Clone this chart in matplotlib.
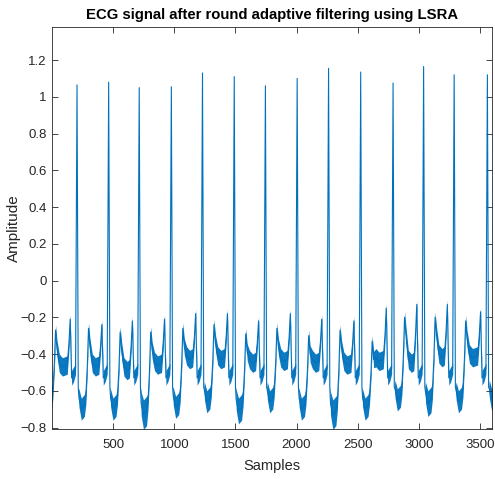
import numpy as np
import matplotlib
matplotlib.use("Agg")
import matplotlib.pyplot as plt

# ---- data ----
# R-peak sample positions (first is a virtual beat before the window)
r_pos = [-67, 203, 462, 712, 975, 1230, 1490, 1745, 2005, 2262, 2525, 2790, 3040, 3290, 3562]
r_height = [1.05, 1.065, 1.08, 1.05, 1.055, 1.13, 1.11, 1.06, 1.10, 1.155, 1.135, 1.075, 1.165, 1.12, 1.12]
# per segment (after each R): level of the low part, T peak, trough, pre-R peak
seg_low = [-0.65, -0.68, -0.68, -0.71, -0.67, -0.64, -0.69, -0.64, -0.68, -0.71, -0.68, -0.63, -0.65, -0.64, -0.63]
seg_t = [-0.27, -0.26, -0.28, -0.28, -0.26, -0.24, -0.29, -0.26, -0.30, -0.27, -0.33, -0.20, -0.20, -0.22, -0.22]
seg_trough = [-0.47, -0.47, -0.49, -0.46, -0.43, -0.43, -0.45, -0.44, -0.45, -0.46, -0.44, -0.45, -0.42, -0.42, -0.42]
seg_pre = [-0.21, -0.24, -0.22, -0.21, -0.18, -0.18, -0.22, -0.18, -0.21, -0.22, -0.15, -0.13, -0.13, -0.17, -0.17]
seg_noise = [0.06, 0.06, 0.06, 0.08, 0.06, 0.06, 0.07, 0.06, 0.06, 0.08, 0.06, 0.06, 0.07, 0.06, 0.06]
n_samples = 3600
x_ticks = [500, 1000, 1500, 2000, 2500, 3000, 3500]
y_ticks = [-0.8, -0.6, -0.4, -0.2, 0, 0.2, 0.4, 0.6, 0.8, 1, 1.2]
y_tick_labels = ["\u22120.8", "\u22120.6", "\u22120.4", "\u22120.2", "0", "0.2", "0.4", "0.6", "0.8", "1", "1.2"]

# ---- assemble the key points of the trace ----
xs, ys, hws = [], [], []
for k in range(len(r_pos)):
    r = r_pos[k]
    P = (r_pos[k + 1] - r) if k + 1 < len(r_pos) else 300
    S, T, U, Pp, nz = seg_low[k], seg_t[k], seg_trough[k], seg_pre[k], seg_noise[k]
    pts = [
        (0, r_height[k], 0.0),
        (10, -0.58, 0.0),
        (16, S + 0.04, nz * 0.8),
        (35, S - 0.02, nz),
        (60, S, nz),
        (72, S + 0.05, 0.045),
        (84, (S + T) / 2, 0.035),
        (94, T, 0.03),
        (106, T - 0.1, 0.045),
        (125, U + 0.02, 0.05),
        (150, U, 0.05),
    ]
    if k + 1 < len(r_pos):
        pts += [
            (P - 80, U + 0.01, 0.05),
            (P - 66, (U + Pp) / 2, 0.035),
            (P - 56, Pp, 0.025),
            (P - 44, -0.53, 0.04),
            (P - 28, -0.51, 0.04),
            (P - 12, -0.48, 0.03),
        ]
    for off, v, hw in pts:
        xs.append(r + off)
        ys.append(v)
        hws.append(hw)

xs = np.array(xs, float)
ys = np.array(ys, float)
hws = np.array(hws, float)

plt.rcParams['font.family'] = ['Liberation Sans', 'DejaVu Sans']
fig = plt.figure(figsize=(4.95, 4.79), dpi=100)
ax = fig.add_axes([0.1055, 0.1044, 0.8885, 0.8392])

col = '#0072BD'
ax.fill_between(xs, ys - hws, ys + hws, color=col, lw=0, alpha=0.95)
ax.plot(xs, ys, color=col, lw=0.8)

ax.set_xlim(0, n_samples)
ax.set_ylim(-0.808, 1.38)
ax.set_xticks(x_ticks)
ax.set_yticks(y_ticks)
ax.set_yticklabels(y_tick_labels)
ax.tick_params(direction='in', length=4.5, width=0.6, colors='#262626',
               labelsize=9.5, top=True, right=True)
ax.tick_params(axis='x', pad=7)
ax.tick_params(axis='y', pad=4)
for s in ax.spines.values():
    s.set_color('#262626')
    s.set_linewidth(0.6)
ax.set_xlabel('Samples', fontsize=10.5, color='#262626')
ax.set_ylabel('Amplitude', fontsize=11, color='#262626')
ax.xaxis.set_label_coords(0.5, -0.075)
ax.yaxis.set_label_coords(-0.072, 0.5)
ax.set_title('ECG signal after round adaptive filtering using LSRA',
             fontsize=10.7, fontweight='bold', color='black', pad=6)

fig.savefig('out.png', dpi=100)
